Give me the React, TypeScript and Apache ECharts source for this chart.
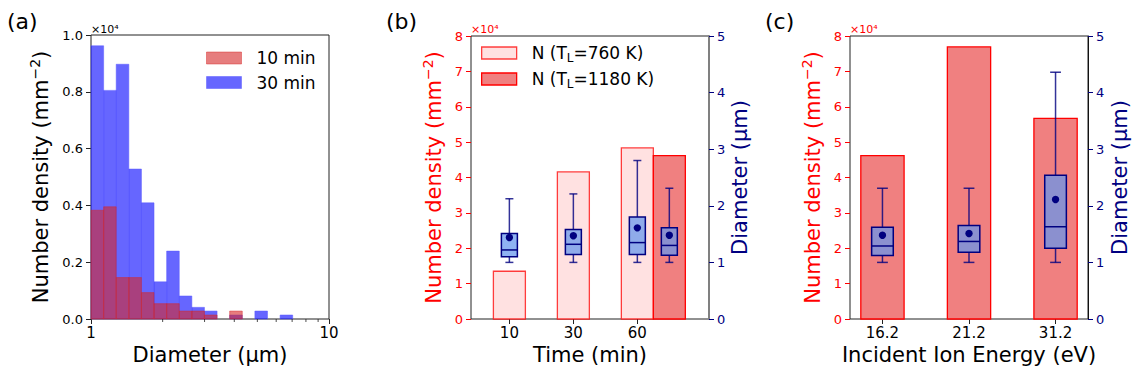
import React, { useEffect, useRef } from 'react';
import * as echarts from 'echarts';

const FONT = 'DejaVu Sans';
const RED = '#ff0000';
const NAVY = '#000080';

// ---------- (a) histogram (values in units of 1e4 mm^-2) ----------
const binEdges = [1.0, 1.13, 1.276, 1.442, 1.629, 1.84, 2.079, 2.349, 2.653, 2.997, 3.386, 3.825, 4.321, 4.882, 5.515, 6.23, 7.038];
const density10min = [0.383, 0.395, 0.146, 0.146, 0.093, 0.054, 0.054, 0.028, 0.028, 0.014, 0, 0.028, 0, 0, 0, 0];
const density30min = [0.962, 0.805, 0.897, 0.528, 0.409, 0.131, 0.239, 0.081, 0.041, 0.028, 0, 0.014, 0, 0.028, 0, 0.014];
const logMinorTicks = [2, 3, 4, 5, 6, 7, 8, 9];

// ---------- (b) time series ----------
const timeLabels = ['10', '30', '60'];
const timePositions = [0, 1, 2];
const density760K = [1.35, 4.16, 4.84];
const hotPositions = [2.5];
const density1180K = [4.62];
// diameter box stats: [min, q1, median, q3, max, mean] (µm)
const diam760K = [
  [1.0, 1.1, 1.22, 1.51, 2.125, 1.44],
  [1.0, 1.14, 1.32, 1.58, 2.21, 1.47],
  [1.0, 1.14, 1.35, 1.8, 2.8, 1.61],
];
const diam1180K = [[1.0, 1.125, 1.3, 1.61, 2.31, 1.48]];

// ---------- (c) ion energy ----------
const energyLabels = ['16.2', '21.2', '31.2'];
const energyPositions = [0, 1, 2];
const densityEnergy = [4.62, 7.69, 5.67];
const diamEnergy = [
  [1.0, 1.12, 1.29, 1.62, 2.31, 1.48],
  [1.0, 1.18, 1.37, 1.65, 2.31, 1.51],
  [1.0, 1.25, 1.63, 2.54, 4.36, 2.11],
];

const HIST_RED = 'rgba(214,39,40,0.6)';
const HIST_RED_EDGE = 'rgba(214,39,40,0.45)';
const HIST_BLUE = 'rgba(0,0,255,0.6)';
const HIST_BLUE_EDGE = 'rgba(90,90,255,0.5)';
const LIGHT_BAR = '#ffe1e1';
const DARK_BAR = '#f08080';
const BOX_FILL = 'rgba(100,149,237,0.72)';

function histRender(fill: string, stroke: string) {
  return (_p: any, api: any) => {
    const x0 = api.value(0);
    const x1 = api.value(1);
    const v = api.value(2);
    if (!v) return null;
    const a = api.coord([x0, v]);
    const b = api.coord([x1, 0]);
    return {
      type: 'rect',
      shape: { x: a[0], y: a[1], width: b[0] - a[0], height: b[1] - a[1] },
      style: { fill, stroke, lineWidth: 1 },
    };
  };
}

function barRender(fill: string, stroke: string) {
  return (_p: any, api: any) => {
    const x = api.value(0);
    const v = api.value(1);
    const a = api.coord([x - 0.25, v]);
    const b = api.coord([x + 0.25, 0]);
    return {
      type: 'rect',
      shape: { x: a[0], y: a[1], width: b[0] - a[0], height: b[1] - a[1] },
      style: { fill, stroke, lineWidth: 1.3 },
    };
  };
}

function boxRender(_p: any, api: any) {
  const x = api.value(0);
  const mn = api.value(1);
  const q1 = api.value(2);
  const md = api.value(3);
  const q3 = api.value(4);
  const mx = api.value(5);
  const mean = api.value(6);
  const hw = 0.125;
  const c = (xx: number, yy: number) => api.coord([xx, yy]);
  const wStyle = { stroke: 'rgba(0,0,128,0.8)', lineWidth: 1.5 };
  const tl = c(x - hw, q3);
  const br = c(x + hw, q1);
  const line = (p: number[], q: number[], style: any) => ({
    type: 'line',
    shape: { x1: p[0], y1: p[1], x2: q[0], y2: q[1] },
    style,
  });
  const m = c(x, mean);
  return {
    type: 'group',
    children: [
      line(c(x, q3), c(x, mx), wStyle),
      line(c(x, q1), c(x, mn), wStyle),
      line(c(x - hw / 2, mx), c(x + hw / 2, mx), wStyle),
      line(c(x - hw / 2, mn), c(x + hw / 2, mn), wStyle),
      {
        type: 'rect',
        shape: { x: tl[0], y: tl[1], width: br[0] - tl[0], height: br[1] - tl[1] },
        style: { fill: BOX_FILL, stroke: NAVY, lineWidth: 1.5 },
      },
      line(c(x - hw, md), c(x + hw, md), { stroke: NAVY, lineWidth: 1.5 }),
      { type: 'circle', shape: { cx: m[0], cy: m[1], r: 3.7 }, style: { fill: NAVY } },
    ],
  };
}

function minorTickRender(_p: any, api: any) {
  const p = api.coord([api.value(0), 0]);
  return {
    type: 'line',
    shape: { x1: p[0], y1: p[1], x2: p[0], y2: p[1] + 3 },
    style: { stroke: '#222', lineWidth: 0.8 },
  };
}

const richName = (color: string) => ({
  a: { fontFamily: FONT, fontSize: 21, color, lineHeight: 26 },
  s: { fontFamily: FONT, fontSize: 14, color, lineHeight: 26, verticalAlign: 'top' },
});

const densityName = '{a|Number density (mm}{s|−2}{a|)}';

const yTickLabel = (color: string) => ({ fontFamily: FONT, fontSize: 13, color });
const xTickLabel = { fontFamily: FONT, fontSize: 15, color: '#000' };

function buildOption(): any {
  const histData = (vals: number[]) => vals.map((v, i) => [binEdges[i], binEdges[i + 1], v]);
  const posData = (pos: number[], vals: number[]) => pos.map((p, i) => [p, vals[i]]);
  const boxData = (pos: number[], stats: number[][]) => pos.map((p, i) => [p, ...stats[i]]);

  const grids = [
    { left: 91, top: 35, width: 238, height: 284 },
    { left: 471, top: 36, width: 238, height: 283 },
    { left: 850, top: 36, width: 238, height: 283 },
  ].map((g) => ({
    ...g,
    show: true,
    borderColor: '#222',
    borderWidth: 1,
    backgroundColor: 'transparent',
    containLabel: false,
    outerBoundsMode: 'none',
  }));

  const baseX = {
    axisLine: { show: false, onZero: false },
    splitLine: { show: false },
    axisTick: { show: true, inside: false, length: 5, lineStyle: { color: '#222', width: 1 } },
    nameLocation: 'middle',
    nameTextStyle: { fontFamily: FONT, fontSize: 21, color: '#000' },
    nameGap: 22,
  };

  const xAxis = [
    {
      ...baseX,
      gridIndex: 0,
      type: 'log',
      logBase: 10,
      min: 1,
      max: 10,
      axisLabel: { ...xTickLabel, margin: 6, formatter: (v: number) => String(Math.round(v)) },
      minorTick: { show: false },
      name: 'Diameter (µm)',
    },
    {
      ...baseX,
      gridIndex: 1,
      type: 'value',
      min: -0.6,
      max: 3.12,
      axisTick: { ...baseX.axisTick, customValues: timePositions },
      axisLabel: {
        ...xTickLabel,
        margin: 6,
        customValues: timePositions,
        formatter: (v: number) => timeLabels[timePositions.indexOf(Math.round(v))] ?? '',
      },
      name: 'Time (min)',
    },
    {
      ...baseX,
      gridIndex: 2,
      type: 'value',
      min: -0.375,
      max: 2.375,
      axisTick: { ...baseX.axisTick, customValues: energyPositions },
      axisLabel: {
        ...xTickLabel,
        margin: 6,
        customValues: energyPositions,
        formatter: (v: number) => energyLabels[energyPositions.indexOf(Math.round(v))] ?? '',
      },
      name: 'Incident Ion Energy (eV)',
    },
  ];

  const yBase = (color: string, tickColor: string) => ({
    type: 'value',
    splitLine: { show: false },
    axisLine: { show: false, onZero: false },
    axisTick: { show: true, inside: false, length: 5, lineStyle: { color: tickColor, width: 1 } },
    axisLabel: { ...yTickLabel(color), margin: 8 },
    nameLocation: 'middle',
    nameRotate: 90,
  });

  const yAxis = [
    {
      ...yBase('#000', '#222'),
      gridIndex: 0,
      min: 0,
      max: 1,
      interval: 0.2,
      axisLabel: { ...yTickLabel('#000'), margin: 8, formatter: (v: number) => v.toFixed(1) },
      name: densityName,
      nameGap: 37,
      nameTextStyle: { rich: richName('#000') },
    },
    {
      ...yBase(RED, RED),
      gridIndex: 1,
      position: 'left',
      min: 0,
      max: 8,
      interval: 1,
      name: densityName,
      nameGap: 24,
      nameTextStyle: { rich: richName(RED) },
    },
    {
      ...yBase(NAVY, NAVY),
      gridIndex: 1,
      position: 'right',
      min: 0,
      max: 5,
      interval: 1,
      axisLine: { show: true, onZero: false, lineStyle: { color: '#808080', width: 2 } },
      name: 'Diameter (µm)',
      nameGap: 20,
      nameTextStyle: { fontFamily: FONT, fontSize: 21, color: NAVY },
    },
    {
      ...yBase(RED, RED),
      gridIndex: 2,
      position: 'left',
      min: 0,
      max: 8,
      interval: 1,
      name: densityName,
      nameGap: 24,
      nameTextStyle: { rich: richName(RED) },
    },
    {
      ...yBase(NAVY, NAVY),
      gridIndex: 2,
      position: 'right',
      min: 0,
      max: 5,
      interval: 1,
      axisLine: { show: true, onZero: false, lineStyle: { color: '#111', width: 1 } },
      name: 'Diameter (µm)',
      nameGap: 21,
      nameTextStyle: { fontFamily: FONT, fontSize: 21, color: NAVY },
    },
  ];

  const series: any[] = [
    {
      type: 'custom',
      name: '30 min',
      xAxisIndex: 0,
      yAxisIndex: 0,
      renderItem: histRender(HIST_BLUE, HIST_BLUE_EDGE),
      encode: { x: [0, 1], y: 2 },
      itemStyle: { color: HIST_BLUE },
      data: histData(density30min),
    },
    {
      type: 'custom',
      name: '10 min',
      xAxisIndex: 0,
      yAxisIndex: 0,
      renderItem: histRender(HIST_RED, HIST_RED_EDGE),
      encode: { x: [0, 1], y: 2 },
      itemStyle: { color: HIST_RED },
      data: histData(density10min),
    },
    {
      type: 'custom',
      name: 'minor',
      xAxisIndex: 0,
      yAxisIndex: 0,
      clip: false,
      renderItem: minorTickRender,
      encode: { x: 0, y: 1 },
      data: logMinorTicks.map((t) => [t, 0]),
    },
    {
      type: 'custom',
      name: 'T760',
      xAxisIndex: 1,
      yAxisIndex: 1,
      renderItem: barRender(LIGHT_BAR, 'rgba(255,0,0,0.75)'),
      encode: { x: 0, y: 1 },
      itemStyle: { color: LIGHT_BAR },
      data: posData(timePositions, density760K),
    },
    {
      type: 'custom',
      name: 'T1180',
      xAxisIndex: 1,
      yAxisIndex: 1,
      renderItem: barRender(DARK_BAR, RED),
      encode: { x: 0, y: 1 },
      itemStyle: { color: DARK_BAR },
      data: posData(hotPositions, density1180K),
    },
    {
      type: 'custom',
      name: 'box760',
      xAxisIndex: 1,
      yAxisIndex: 2,
      renderItem: boxRender,
      encode: { x: 0, y: [1, 2, 3, 4, 5, 6] },
      data: boxData(timePositions, diam760K),
    },
    {
      type: 'custom',
      name: 'box1180',
      xAxisIndex: 1,
      yAxisIndex: 2,
      renderItem: boxRender,
      encode: { x: 0, y: [1, 2, 3, 4, 5, 6] },
      data: boxData(hotPositions, diam1180K),
    },
    {
      type: 'custom',
      name: 'energyBars',
      xAxisIndex: 2,
      yAxisIndex: 3,
      renderItem: barRender(DARK_BAR, RED),
      encode: { x: 0, y: 1 },
      data: posData(energyPositions, densityEnergy),
    },
    {
      type: 'custom',
      name: 'energyBoxes',
      xAxisIndex: 2,
      yAxisIndex: 4,
      renderItem: boxRender,
      encode: { x: 0, y: [1, 2, 3, 4, 5, 6] },
      data: boxData(energyPositions, diamEnergy),
    },
  ];

  const legendText = { fontFamily: FONT, fontSize: 17, color: '#000', lineHeight: 20, padding: [0, 0, 0, 10] };

  const legend = [
    {
      orient: 'vertical',
      left: 206,
      top: 48,
      itemWidth: 35,
      itemHeight: 12,
      itemGap: 4.5,
      icon: 'rect',
      selectedMode: false,
      padding: 0,
      textStyle: legendText,
      data: [
        { name: '10 min', itemStyle: { color: HIST_RED, borderColor: HIST_RED_EDGE, borderWidth: 1 } },
        { name: '30 min', itemStyle: { color: HIST_BLUE, borderColor: HIST_BLUE_EDGE, borderWidth: 1 } },
      ],
    },
    {
      orient: 'vertical',
      left: 481,
      top: 42,
      itemWidth: 35,
      itemHeight: 12,
      itemGap: 4,
      icon: 'rect',
      selectedMode: false,
      padding: 0,
      textStyle: {
        ...legendText,
        lineHeight: 22,
        rich: {
          a: { fontFamily: FONT, fontSize: 17, color: '#000', lineHeight: 22 },
          s: { fontFamily: FONT, fontSize: 12, color: '#000', lineHeight: 22, verticalAlign: 'bottom' },
        },
      },
      formatter: (name: string) =>
        name === 'T760' ? '{a|N (T}{s|L}{a|=760 K)}' : '{a|N (T}{s|L}{a|=1180 K)}',
      data: [
        { name: 'T760', itemStyle: { color: LIGHT_BAR, borderColor: 'rgba(255,0,0,0.75)', borderWidth: 1.3 } },
        { name: 'T1180', itemStyle: { color: DARK_BAR, borderColor: RED, borderWidth: 1.3 } },
      ],
    },
  ];

  const panelLabel = (text: string, x: number) => ({
    type: 'text',
    x,
    y: 21,
    style: { text, fontFamily: FONT, fontSize: 22, fill: '#000', verticalAlign: 'middle', align: 'left' },
  });
  const offsetLabel = (x: number, color: string) => ({
    type: 'text',
    x,
    y: 29,
    style: { text: '×10⁴', fontFamily: FONT, fontSize: 11, fill: color, verticalAlign: 'middle', align: 'left' },
  });

  return {
    animation: false,
    backgroundColor: '#fff',
    textStyle: { fontFamily: FONT },
    grid: grids,
    xAxis,
    yAxis,
    legend,
    series,
    graphic: [
      panelLabel('(a)', 7),
      panelLabel('(b)', 386),
      panelLabel('(c)', 765),
      offsetLabel(91, '#000'),
      offsetLabel(471, RED),
      offsetLabel(850, RED),
    ],
  };
}

export default function App() {
  const ref = useRef<HTMLDivElement>(null);
  useEffect(() => {
    if (!ref.current) return;
    const chart = echarts.init(ref.current, undefined, { renderer: 'svg' });
    chart.setOption(buildOption());
    return () => chart.dispose();
  }, []);
  return (
    <div
      ref={ref}
      style={{ position: 'absolute', left: 0, top: 0, width: 1138, height: 374, background: '#fff' }}
    />
  );
}
